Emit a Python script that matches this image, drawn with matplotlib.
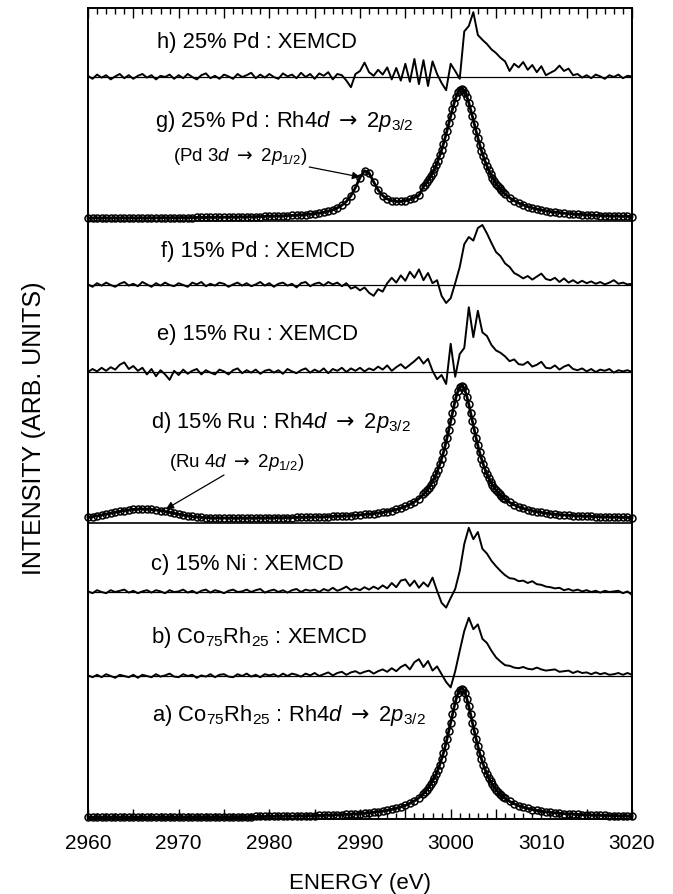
import numpy as np
import matplotlib
matplotlib.use("Agg")
import matplotlib.pyplot as plt
from matplotlib.ticker import FuncFormatter

plt.rcParams['font.family'] = ['Liberation Sans', 'DejaVu Sans']
plt.rcParams['mathtext.fontset'] = 'custom'
plt.rcParams['mathtext.rm'] = 'Liberation Sans'
plt.rcParams['mathtext.it'] = 'Liberation Sans:italic'
plt.rcParams['mathtext.bf'] = 'Liberation Sans:bold'
plt.rcParams['mathtext.sf'] = 'DejaVu Sans'

# ---------------- data ----------------
# sampling energies (eV) of the emission spectra (circles)
E_abs = np.concatenate([np.arange(2960.0, 2996.51, 0.5),
                        np.arange(2997.0, 3006.01, 0.2),
                        np.arange(3006.5, 3020.01, 0.5)])
# sampling energies (eV) of the XEMCD difference spectra
E_mcd = np.arange(2960.0, 3020.01, 0.5)

# a) Co75Rh25 : Rh4d -> 2p3/2   (normalised intensity)
a_vals = [
    .002, .002, .003, .003, .003, .003, .003, .003, .003, .003,
    .003, .003, .003, .003, .003, .004, .004, .004, .004, .004,
    .004, .004, .004, .005, .005, .005, .005, .005, .005, .006,
    .006, .006, .006, .007, .007, .007, .007, .008, .008, .008,
    .009, .009, .010, .010, .011, .011, .012, .013, .013, .014,
    .015, .016, .017, .018, .020, .021, .023, .024, .026, .028,
    .031, .034, .037, .041, .045, .050, .056, .063, .072, .082,
    .094, .110, .129, .153,
    .185, .200, .217, .236, .257, .281, .308, .338, .372, .410,
    .453, .500, .553, .610, .671, .735, .800, .862, .917, .962,
    .990, 1.000, .990, .962, .917, .862, .800, .735, .671, .610,
    .553, .500, .453, .410, .372, .338, .308, .281, .257, .236,
    .217, .200, .185, .171, .159, .148,
    .125, .106, .092, .080, .070, .062, .055, .049, .044, .040,
    .036, .033, .030, .028, .026, .024, .022, .021, .019, .018,
    .017, .016, .015, .014, .013, .0125, .012, .011]

# d) 15% Ru : Rh4d -> 2p3/2 (with Ru 4d -> 2p1/2 bump near 2966 eV)
d_vals = [
    .014, .018, .024, .030, .037, .044, .051, .057, .063, .068,
    .072, .074, .075, .074, .072, .068, .063, .057, .050, .043,
    .036, .030, .024, .019, .015, .012, .010, .009, .008, .008,
    .008, .007, .007, .007, .007, .007, .007, .008, .008, .008,
    .009, .009, .010, .010, .011, .011, .012, .013, .013, .014,
    .015, .016, .017, .018, .020, .021, .023, .024, .026, .028,
    .031, .034, .037, .041, .045, .050, .056, .063, .072, .082,
    .094, .110, .129, .153,
    .185, .200, .217, .236, .257, .281, .308, .338, .372, .410,
    .453, .500, .553, .610, .671, .735, .800, .862, .917, .962,
    .990, 1.000, .990, .962, .917, .862, .800, .735, .671, .610,
    .553, .500, .453, .410, .372, .338, .308, .281, .257, .236,
    .217, .200, .185, .171, .159, .148,
    .125, .106, .092, .080, .070, .062, .055, .049, .044, .040,
    .036, .033, .030, .028, .026, .024, .022, .021, .019, .018,
    .017, .016, .015, .014, .013, .0125, .012, .011]

# g) 25% Pd : Rh4d -> 2p3/2 (with Pd 3d -> 2p1/2 peak near 2990.5 eV)
g_vals = [
    .004, .004, .004, .004, .004, .004, .004, .004, .005, .005,
    .005, .005, .005, .005, .005, .006, .006, .006, .006, .006,
    .007, .007, .007, .007, .008, .008, .008, .009, .009, .009,
    .010, .010, .011, .011, .012, .013, .013, .014, .015, .016,
    .017, .018, .019, .020, .022, .023, .025, .027, .030, .033,
    .037, .041, .046, .056, .066, .080, .100, .128, .171, .233,
    .308, .359, .341, .276, .214, .172, .147, .134, .129, .129,
    .134, .143, .157, .174,
    .238, .255, .273, .294, .316, .342, .370, .401, .435, .474,
    .515, .561, .610, .661, .715, .770, .823, .872, .915, .948,
    .969, .976, .968, .947, .913, .870, .820, .767, .712, .658,
    .606, .556, .510, .468, .429, .394, .362, .334, .308, .284,
    .263, .244, .227, .211, .197, .184,
    .156, .134, .116, .102, .090, .080, .071, .064, .058, .052,
    .048, .044, .040, .037, .034, .032, .030, .028, .026, .024,
    .022, .021, .020, .019, .018, .017, .016, .015]

# XEMCD difference spectra (arb. units), 0.5 eV steps 2960 -> 3020
b_mcd = [
    0.01, -0.02, 0.02, -0.02, 0.03, 0.00, -0.03, 0.02, 0.00, -0.02,
    0.02, -0.03, 0.02, 0.00, -0.02, 0.03, -0.01, 0.01, 0.04, -0.01,
    -0.02, 0.03, 0.00, 0.02, -0.03, 0.01, -0.01, 0.03, -0.02, 0.02,
    0.03, -0.01, -0.02, 0.03, 0.00, 0.04, -0.01, 0.02, -0.02, 0.03,
    0.01, 0.03, -0.01, 0.04, 0.00, 0.04, 0.02, -0.01, 0.04, 0.01,
    0.05, 0.00, 0.03, 0.06, 0.01, 0.05, 0.07, 0.02, 0.06, 0.08,
    0.04, 0.07, 0.09, 0.04, 0.08, 0.11, 0.07, 0.13, 0.08, 0.15,
    0.19, 0.11, 0.23, 0.28, 0.15, 0.25, 0.09, 0.16, 0.03, -0.10,
    -0.19, 0.08, 0.42, 0.75, 0.97, 0.78, 0.86, 0.62, 0.55, 0.42,
    0.31, 0.24, 0.18, 0.17, 0.14, 0.13, 0.15, 0.12, 0.11, 0.14,
    0.11, 0.09, 0.10, 0.11, 0.07, 0.08, 0.09, 0.05, 0.08, 0.05,
    0.06, 0.03, 0.06, 0.03, 0.05, 0.02, 0.03, 0.05, 0.02, 0.05,
    0.02]

c_mcd = [
    0.01, -0.02, 0.03, 0.00, -0.02, 0.03, 0.00, 0.02, 0.04, -0.01,
    0.02, -0.02, 0.01, 0.03, -0.01, 0.03, 0.01, -0.02, 0.03, 0.00,
    0.01, 0.04, -0.01, 0.02, -0.02, 0.02, 0.04, -0.01, 0.03, 0.01,
    -0.02, 0.02, 0.04, 0.00, 0.01, 0.04, 0.00, 0.03, 0.05, -0.01,
    0.02, 0.04, 0.00, 0.03, -0.01, 0.03, 0.05, 0.00, 0.04, 0.02,
    0.04, 0.00, 0.05, 0.02, 0.07, 0.02, 0.05, 0.09, 0.03, 0.06,
    0.03, 0.08, 0.04, 0.09, 0.05, 0.11, 0.06, 0.15, 0.08, 0.19,
    0.21, 0.10, 0.19, 0.07, 0.16, 0.09, 0.24, 0.02, -0.18, -0.26,
    -0.10, 0.05, 0.35, 0.80, 1.07, 0.88, 1.00, 0.72, 0.64, 0.52,
    0.43, 0.35, 0.28, 0.23, 0.22, 0.18, 0.19, 0.15, 0.18, 0.13,
    0.12, 0.09, 0.08, 0.06, 0.07, 0.03, 0.05, 0.02, 0.04, 0.01,
    0.03, 0.00, 0.02, -0.01, 0.02, 0.00, 0.01, 0.02, -0.02, 0.01,
    -0.05]

e_mcd = [
    0.00, 0.05, 0.01, 0.07, 0.02, 0.08, 0.04, 0.12, 0.16, 0.05,
    0.10, 0.02, 0.07, -0.04, 0.05, -0.07, 0.03, -0.04, -0.13, 0.02,
    -0.05, 0.04, -0.03, 0.02, 0.05, -0.04, 0.03, -0.01, -0.04, 0.04,
    0.01, -0.04, 0.03, 0.06, -0.02, 0.03, -0.01, 0.04, -0.03, 0.02,
    0.04, -0.01, 0.03, -0.03, 0.05, 0.01, -0.02, 0.03, 0.06, -0.01,
    0.04, 0.00, 0.06, -0.02, 0.05, 0.02, 0.07, 0.00, 0.06, 0.02,
    0.07, 0.01, 0.06, 0.03, 0.09, 0.04, 0.11, 0.02, 0.08, 0.13,
    0.06, 0.12, 0.18, 0.25, 0.14, 0.22, 0.02, -0.12, -0.05, -0.20,
    0.47, -0.08, 0.30, 0.40, 1.08, 0.58, 1.02, 0.66, 0.60, 0.45,
    0.36, 0.32, 0.26, 0.18, 0.21, 0.13, 0.12, 0.17, 0.09, 0.12,
    0.17, 0.07, 0.06, 0.11, 0.04, 0.09, 0.12, 0.05, 0.03, 0.06,
    0.01, 0.05, 0.00, 0.04, 0.02, 0.05, -0.01, 0.03, 0.01, 0.03,
    0.00]

f_mcd = [
    0.01, -0.03, 0.03, -0.01, 0.04, 0.00, -0.03, 0.02, 0.05, -0.01,
    0.02, -0.02, 0.05, 0.01, -0.03, 0.03, -0.01, 0.04, 0.00, -0.02,
    0.03, 0.00, -0.03, 0.04, 0.01, 0.05, -0.02, 0.02, -0.01, 0.04,
    0.02, -0.03, 0.01, 0.04, -0.01, 0.03, -0.02, 0.01, 0.05, -0.01,
    0.03, -0.03, 0.02, 0.04, -0.01, 0.02, -0.04, 0.03, 0.05, -0.02,
    0.02, 0.04, -0.01, 0.05, 0.01, 0.04, -0.02, 0.03, -0.06, -0.03,
    -0.09, -0.04, -0.13, -0.18, -0.07, -0.11, 0.03, 0.12, 0.04, 0.16,
    0.07, 0.22, 0.12, 0.26, 0.08, 0.20, 0.03, 0.08, -0.18, -0.30,
    -0.22, 0.03, 0.30, 0.68, 0.80, 0.74, 0.95, 1.00, 0.86, 0.70,
    0.55, 0.48, 0.36, 0.30, 0.20, 0.16, 0.11, 0.15, 0.09, 0.14,
    0.19, 0.10, 0.08, 0.12, 0.05, 0.11, 0.04, 0.08, 0.03, 0.07,
    0.03, 0.06, 0.02, 0.05, 0.01, 0.04, 0.08, 0.02, 0.04, 0.01,
    0.02]

h_mcd = [
    0.02, -0.03, 0.04, -0.01, 0.03, -0.04, 0.01, 0.05, -0.02, 0.03,
    -0.03, 0.02, 0.05, -0.01, 0.03, -0.04, 0.02, 0.00, 0.04, -0.03,
    0.03, -0.02, 0.05, 0.00, -0.04, 0.03, 0.06, -0.02, 0.02, -0.03,
    0.04, 0.01, -0.03, 0.05, 0.00, 0.03, 0.07, -0.02, 0.04, -0.01,
    0.05, 0.00, -0.03, 0.06, 0.01, 0.04, -0.02, 0.07, 0.00, 0.05,
    -0.03, 0.06, 0.02, 0.08, -0.04, 0.05, 0.03, -0.06, -0.17, 0.05,
    0.10, 0.24, 0.08, 0.02, 0.12, 0.04, 0.16, -0.04, 0.15, -0.06,
    0.22, -0.08, 0.30, -0.12, 0.28, -0.15, 0.26, 0.05, -0.10, -0.22,
    0.22, 0.10, -0.03, 0.76, 0.85, 1.08, 0.70, 0.62, 0.55, 0.46,
    0.40, 0.32, 0.26, 0.10, 0.22, 0.16, 0.25, 0.12, 0.20, 0.08,
    0.18, 0.03, 0.07, 0.11, 0.19, 0.10, 0.14, 0.03, 0.05, -0.01,
    0.03, -0.02, 0.04, 0.01, -0.03, 0.03, 0.00, 0.04, -0.02, 0.02,
    0.01]

ARROW = r"\mathsf{\rightarrow}"
labels = {
    'h': "h) 25% Pd : XEMCD",
    'g': r"g) 25% Pd : Rh4$d\ " + ARROW + r"\ 2p_{3/2}$",
    'f': "f) 15% Pd : XEMCD",
    'e': "e) 15% Ru : XEMCD",
    'd': r"d) 15% Ru : Rh4$d\ " + ARROW + r"\ 2p_{3/2}$",
    'c': "c) 15% Ni : XEMCD",
    'b': "b) Co$_{75}$Rh$_{25}$ : XEMCD",
    'a': r"a) Co$_{75}$Rh$_{25}$ : Rh4$d\ " + ARROW + r"\ 2p_{3/2}$",
}
note_pd = r"(Pd 3$d\ " + ARROW + r"\ 2p_{1/2}$)"
note_ru = r"(Ru 4$d\ " + ARROW + r"\ 2p_{1/2}$)"
xlabel = "ENERGY (eV)"
ylabel = "INTENSITY (ARB. UNITS)"

# ---------------- layout ----------------
W, H = 673, 894
fig = plt.figure(figsize=(W / 100, H / 100), dpi=100)
ax = fig.add_axes([88 / W, 1 - 819 / H, (632 - 88) / W, (819 - 8) / H])
ax.set_xlim(2960, 3020)
ax.set_ylim(0, 811)

# vertical offsets (px from bottom of frame) and scales
base = {'a': 1.5, 'b': 143, 'c': 227, 'd': 300, 'e': 447, 'f': 534,
        'g': 600.5, 'h': 742}
abs_scale = {'a': 129, 'd': 133, 'g': 133}
mcd_scale = 60
seps = [296, 598]

for key, vals in (('a', a_vals), ('d', d_vals), ('g', g_vals)):
    y = base[key] + abs_scale[key] * np.asarray(vals)
    ax.plot(E_abs, y, color='k', lw=2.0, marker='o', ms=5.0,
            mfc='none', mec='k', mew=1.1, clip_on=False, zorder=3)

for key, vals in (('b', b_mcd), ('c', c_mcd), ('e', e_mcd),
                  ('f', f_mcd), ('h', h_mcd)):
    ax.axhline(base[key], color='k', lw=0.9, zorder=2)
    ax.plot(E_mcd, base[key] + mcd_scale * np.asarray(vals),
            color='k', lw=1.4, zorder=3)

for s in seps:
    ax.axhline(s, color='k', lw=1.2, zorder=2)

fs = 15.8
label_pos = {'h': (2967.6, 776), 'g': (2967.4, 697), 'f': (2968.0, 567),
             'e': (2967.6, 484), 'd': (2967.0, 396), 'c': (2966.9, 254),
             'b': (2966.9, 181), 'a': (2967.1, 104)}
for key, (x, y) in label_pos.items():
    ax.text(x, y, labels[key], fontsize=fs, ha='left', va='center')

ax.text(2984.2, 662, note_pd, fontsize=13.5, ha='right', va='center')
ax.annotate('', xy=(2990.0, 642), xytext=(2984.4, 652),
            arrowprops=dict(arrowstyle='-|>', color='k', lw=0.9,
                            mutation_scale=11, shrinkA=0, shrinkB=0))
ax.text(2968.9, 356, note_ru, fontsize=13.5, ha='left', va='center')
ax.annotate('', xy=(2968.6, 310), xytext=(2975.0, 344),
            arrowprops=dict(arrowstyle='-|>', color='k', lw=0.9,
                            mutation_scale=11, shrinkA=0, shrinkB=0))

ax.set_yticks([])
ax.set_xticks(np.arange(2960, 3021, 5))
ax.set_xticks(np.arange(2960, 3021, 1), minor=True)
ax.xaxis.set_major_formatter(
    FuncFormatter(lambda v, p: f"{v:.0f}" if round(v) % 10 == 0 else ""))
ax.tick_params(axis='x', which='major', direction='in', top=True,
               length=7, width=1.0, labelsize=15, pad=11)
ax.tick_params(axis='x', which='minor', direction='in', top=True,
               length=4, width=1.0)
for sp in ax.spines.values():
    sp.set_linewidth(1.4)

fig.text(360 / W, 1 - 883 / H, xlabel, fontsize=16, ha='center', va='center')
fig.text(34 / W, 1 - 428 / H, ylabel, fontsize=18, rotation=90,
         ha='center', va='center')

fig.savefig("out.png", dpi=100)
